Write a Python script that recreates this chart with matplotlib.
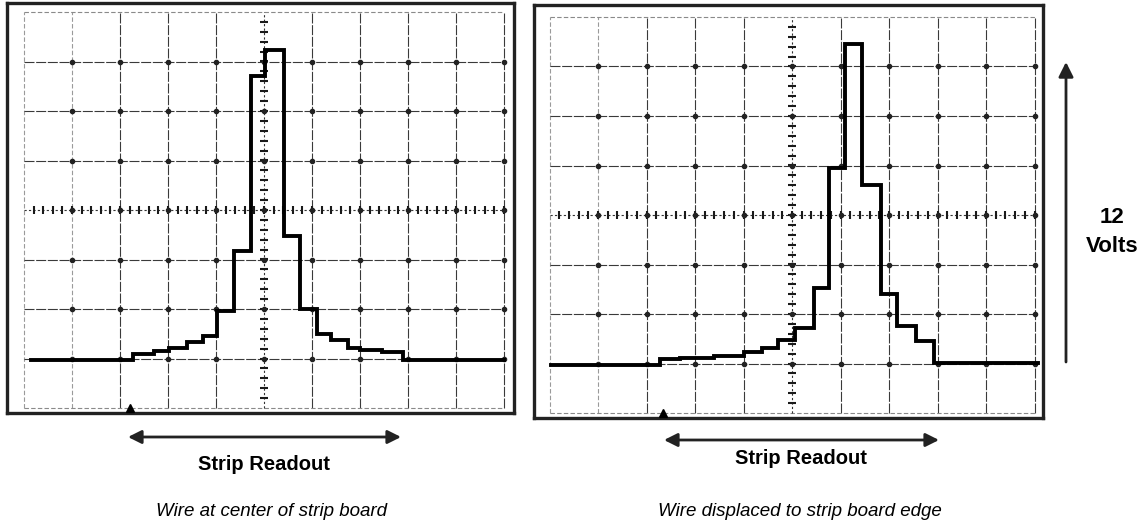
import numpy as np
import matplotlib
matplotlib.use('Agg')
import matplotlib.pyplot as plt

plt.rcParams['font.family'] = ['Liberation Sans Narrow', 'Liberation Sans', 'DejaVu Sans']

# scope traces in graticule divisions (step edges / levels)
left_edges = [-4.86, -2.72, -2.30, -1.97, -1.60, -1.27, -0.97, -0.62, -0.28, 0.03, 0.42, 0.75, 1.10, 1.40, 1.75, 2.00, 2.45, 2.90, 5.00]
left_levels = [-3.03, -2.90, -2.85, -2.79, -2.66, -2.55, -2.05, -0.83, 2.70, 3.23, -0.52, -2.00, -2.50, -2.62, -2.78, -2.83, -2.87, -3.03]

right_edges = [-4.97, -2.72, -2.30, -1.60, -1.00, -0.62, -0.28, 0.07, 0.45, 0.76, 1.10, 1.45, 1.83, 2.17, 2.55, 2.93, 5.07]
right_levels = [-3.03, -2.91, -2.88, -2.84, -2.76, -2.68, -2.53, -2.28, -1.47, 0.95, 3.45, 0.60, -1.60, -2.25, -2.55, -2.98]

left_marker = (-2.79, -4.0)
right_marker = (-2.66, -4.0)

W, H = 1148, 529
fig = plt.figure(figsize=(W/100, H/100), dpi=100)


def scope(box, center, div, edges, levels, marker):
    x0, y0, x1, y1 = box
    cx, cy = center
    dx, dy = div
    ax = fig.add_axes([x0/W, 1-y1/H, (x1-x0)/W, (y1-y0)/H])
    ax.set_xlim((x0-cx)/dx, (x1-cx)/dx)
    ax.set_ylim(-(y1-cy)/dy, (cy-y0)/dy)
    ax.set_xticks([]); ax.set_yticks([])
    for s in ax.spines.values():
        s.set_linewidth(2.4); s.set_color('#222222')

    # graticule
    for gx in range(-5, 6):
        if gx == 0:
            continue
        faint = gx in (-5, -4)
        ax.plot([gx, gx], [-4, 4], color='#9a9a9a' if faint else '#3a3a3a',
                lw=0.8, ls=(0, (4, 2)) if faint else (0, (9, 1.5)), zorder=1)
    for gy in range(-4, 5):
        if gy == 0:
            continue
        faint = gy in (-4, 4)
        ax.plot([-5, 5], [gy, gy], color='#8a8a8a' if faint else '#3a3a3a',
                lw=0.8, ls=(0, (4, 2)) if faint else (0, (9, 1.5)), zorder=1)
    ax.plot([-5, 5], [0, 0], color='#333333', lw=0.8, ls=(0, (2, 2)), zorder=1)
    ax.plot([0, 0], [-4, 4], color='#333333', lw=0.8, ls=(0, (2, 2)), zorder=1)
    t = np.arange(-4.8, 5.01, 0.2)
    ax.plot(t, np.zeros_like(t), ls='none', marker='|', ms=6, mew=1.5, color='#1a1a1a', zorder=2)
    t = np.arange(-3.8, 4.0, 0.2)
    ax.plot(np.zeros_like(t), t, ls='none', marker='_', ms=6, mew=1.5, color='#1a1a1a', zorder=2)
    gxs, gys = np.meshgrid(np.arange(-4, 6), np.arange(-3, 4))
    ax.plot(gxs.ravel(), gys.ravel(), ls='none', marker='o', ms=3, color='#222222', zorder=2)

    # trace
    ax.step(edges, levels + [levels[-1]], where='post', color='black', lw=2.8,
            solid_joinstyle='miter', zorder=3)
    ax.plot([marker[0]], [marker[1]], marker='^', ms=6, color='black', zorder=3)
    return ax


axL = scope((7, 3, 514, 413), (264, 210), (48, 49.5), left_edges, left_levels, left_marker)
axR = scope((534, 5, 1043, 418), (792, 215), (48.5, 49.5), right_edges, right_levels, right_marker)


def fp(x, y):
    return (x/W, 1-y/H)


arrow = dict(arrowstyle='<|-|>', color='#222222', lw=2.0, mutation_scale=20, shrinkA=0, shrinkB=0)
fig.add_artist(matplotlib.patches.FancyArrowPatch(fp(128, 437), fp(401, 437), transform=fig.transFigure, **arrow))
fig.add_artist(matplotlib.patches.FancyArrowPatch(fp(664, 440), fp(939, 440), transform=fig.transFigure, **arrow))
fig.add_artist(matplotlib.patches.FancyArrowPatch(fp(1066, 362), fp(1066, 62), transform=fig.transFigure,
                                                  arrowstyle='-|>', color='#222222', lw=2.0,
                                                  mutation_scale=22, shrinkA=0, shrinkB=0))

fig.text(*fp(264, 465), 'Strip Readout', ha='center', va='center', fontsize=14.5, fontweight='bold')
fig.text(*fp(801, 458), 'Strip Readout', ha='center', va='center', fontsize=14.5, fontweight='bold')
fig.text(*fp(272, 512), 'Wire at center of strip board', ha='center', va='center', fontsize=13.5, style='italic')
fig.text(*fp(800, 512), 'Wire displaced to strip board edge', ha='center', va='center', fontsize=13.5, style='italic')
fig.text(*fp(1112, 218), '12', ha='center', va='center', fontsize=16, fontweight='bold')
fig.text(*fp(1112, 246), 'Volts', ha='center', va='center', fontsize=16, fontweight='bold')

fig.savefig('out.png', dpi=100)
